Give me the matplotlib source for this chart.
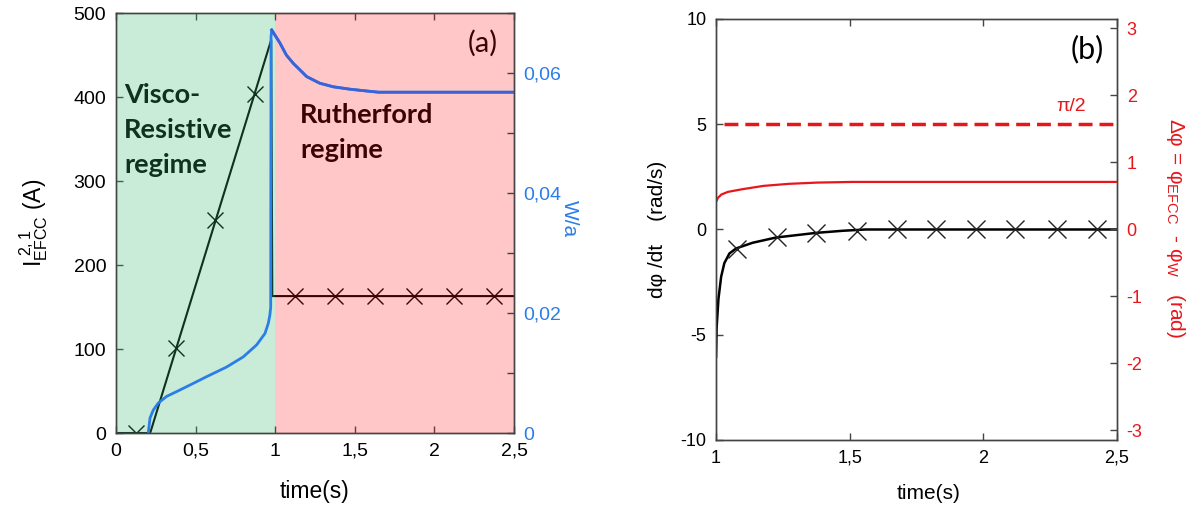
"""
Two panel figure: EFCC current / island width (a) and phase drift (b)
"""

import numpy as np
import matplotlib
matplotlib.use('Agg')
from matplotlib import pyplot as plt

plt.rcParams['font.family'] = ['Liberation Sans', 'DejaVu Sans']
plt.rcParams['mathtext.fontset'] = 'custom'
plt.rcParams['mathtext.rm'] = 'Liberation Sans'
plt.rcParams['mathtext.it'] = 'Liberation Sans:italic'
plt.rcParams['axes.unicode_minus'] = False

# ---- panel (a) data ----
current_t = [0.0, 0.215, 0.975, 0.982, 2.5]
current_A = [0, 0, 468, 163, 163]
current_mark_t = [0.125, 0.375, 0.625, 0.875, 1.125, 1.375, 1.625, 1.875, 2.125, 2.375]
current_mark_A = [0, 101, 254, 404, 163, 163, 163, 163, 163, 163]

width_t = [0.203, 0.214, 0.234, 0.266, 0.318, 0.381, 0.465, 0.57, 0.695, 0.8,
           0.884, 0.936, 0.957, 0.967, 0.972, 0.974, 0.978, 0.999, 1.03, 1.07,
           1.114, 1.16, 1.198, 1.28, 1.365, 1.47, 1.575, 1.65, 2.5]
width_a = [0.0, 0.0025, 0.0038, 0.005, 0.0061, 0.0069, 0.008, 0.0094, 0.011, 0.0127,
           0.0147, 0.0166, 0.0183, 0.0197, 0.021, 0.066, 0.0672, 0.0663, 0.065, 0.063,
           0.0616, 0.0604, 0.0594, 0.0583, 0.0577, 0.0573, 0.057, 0.0568, 0.0568]

xticks_a = [0, 0.5, 1, 1.5, 2, 2.5]
xticklabels_a = ['0', '0,5', '1', '1,5', '2', '2,5']
yticks_a = [0, 100, 200, 300, 400, 500]
wticks = [0, 0.02, 0.04, 0.06]
wticklabels = ['0', '0,02', '0,04', '0,06']
wticks_minor = [0.01, 0.03, 0.05, 0.07]

# ---- panel (b) data ----
dphi_t = [1.0, 1.002, 1.009, 1.019, 1.031, 1.05, 1.075, 1.137, 1.225, 1.375, 1.475, 1.56, 2.5]
dphi = [-6.04, -4.7, -3.3, -2.25, -1.6, -1.14, -0.9, -0.63, -0.38, -0.16, -0.06, 0, 0]
dphi_mark_t = [1.08, 1.227, 1.374, 1.529, 1.676, 1.824, 1.971, 2.12, 2.277, 2.426]
dphi_mark = [-0.93, -0.38, -0.17, -0.06, 0, 0, 0, 0, 0, 0]

delta_t = [1.0, 1.007, 1.02, 1.044, 1.098, 1.178, 1.271, 1.378, 1.511, 2.5]
delta_phi = [0.412, 0.472, 0.522, 0.561, 0.601, 0.651, 0.681, 0.70, 0.71, 0.71]
half_pi_t = [1.03, 2.5]

xticks_b = [1, 1.5, 2, 2.5]
xticklabels_b = ['1', '1,5', '2', '2,5']
yticks_b = [-10, -5, 0, 5, 10]
rticks_b = [-3, -2, -1, 0, 1, 2, 3]

# ---- styles ----
colorBlue = '#2b7de9'
colorBluePink = '#3b63d8'
colorRed = '#e8161b'
colorSpine = '#444444'
green_over = (55/255, 185/255, 110/255)
red_over = (1.0, 17/255, 17/255)


def style_spines(ax):
    for s in ax.spines.values():
        s.set_color(colorSpine)
        s.set_linewidth(1.0)


fig = plt.figure(figsize=(11.99, 5.08), dpi=100)

# ======================== panel (a) ========================
ax_a = fig.add_axes([0.0967, 0.1476, 0.332, 0.8268])
ax_a.plot(current_t, current_A, color='black', lw=1.5, zorder=2)
ax_a.plot(current_mark_t, current_mark_A, ls='none', marker='x', ms=12,
          mew=1.0, color='black', zorder=2)
ax_a.set_xlim(0, 2.5)
ax_a.set_ylim(0, 500)
ax_a.set_xticks(xticks_a)
ax_a.set_xticklabels(xticklabels_a)
ax_a.set_yticks(yticks_a)
ax_a.tick_params(direction='in', top=True, right=False, length=5, width=1,
                 color=colorSpine, labelsize=14, pad=7)

# regime labels (under the tinted overlay)
for txt, yv in zip(['Visco-', 'Resistive', 'regime'], [393, 351, 310]):
    ax_a.text(0.05, yv, txt, fontsize=19.5, fontweight='bold', family='Lato',
              va='baseline', ha='left', color='black', zorder=3)
for txt, yv in zip(['Rutherford', 'regime'], [369, 327]):
    ax_a.text(1.156, yv, txt, fontsize=19.5, fontweight='bold', family='Lato',
              va='baseline', ha='left', color='black', zorder=3)
ax_a.text(2.305, 464, '(a)', fontsize=21, family='Lato', ha='center', va='center', zorder=3)

ax_a.axvspan(0, 1, color=green_over, alpha=0.27, lw=0, zorder=4)
ax_a.axvspan(1, 2.5, color=red_over, alpha=0.235, lw=0, zorder=4)

ax_a.text(-0.206, 0.5, r'$\mathregular{I^{\ 2,1}_{EFCC}}$ (A)', transform=ax_a.transAxes,
          rotation=90, ha='center', va='center', fontsize=16.5)
ax_a.text(0.5, -0.14, 'time(s)', transform=ax_a.transAxes,
          ha='center', va='center', fontsize=16.5)
style_spines(ax_a)

ax_w = ax_a.twinx()
wt = np.array(width_t)
wa = np.array(width_a)
ax_w.plot(wt, wa, color=colorBlue, lw=2.0)
post = wt >= 0.978
ax_w.plot(wt[post], wa[post], color=colorBluePink, lw=2.0)
ax_w.set_ylim(0, 0.07)
ax_w.set_yticks(wticks)
ax_w.set_yticklabels(wticklabels)
ax_w.set_yticks(wticks_minor, minor=True)
ax_w.tick_params(which='both', direction='in', length=5, width=1, color=colorSpine,
                 labelsize=14, labelcolor=colorBlue, pad=7)
ax_w.text(1.138, 0.51, 'W/a', transform=ax_w.transAxes, rotation=270,
          ha='center', va='center', fontsize=15, color=colorBlue)
style_spines(ax_w)

# ======================== panel (b) ========================
ax_b = fig.add_axes([0.5972, 0.1339, 0.3344, 0.8287])
ax_b.plot(dphi_t, dphi, color='black', lw=1.8, zorder=3)
ax_b.plot(dphi_mark_t, dphi_mark, ls='none', marker='x', ms=13, mew=1.0,
          color='#222222', zorder=3)
ax_b.set_xlim(1, 2.5)
ax_b.set_ylim(-10, 10)
ax_b.set_xticks(xticks_b)
ax_b.set_xticklabels(xticklabels_b)
ax_b.set_yticks(yticks_b)
ax_b.tick_params(direction='in', top=True, right=False, length=5, width=1,
                 color=colorSpine, labelsize=13, pad=7)
ax_b.text(2.387, 8.55, '(b)', fontsize=22, family='Lato', ha='center', va='center')
ax_b.text(2.33, 5.85, 'π/2', fontsize=14, ha='center', va='center', color=colorRed)
ax_b.text(-0.147, 0.5, 'dφ /dt    (rad/s)', transform=ax_b.transAxes,
          rotation=90, ha='center', va='center', fontsize=15)
ax_b.text(0.53, -0.126, 'time(s)', transform=ax_b.transAxes,
          ha='center', va='center', fontsize=15)
style_spines(ax_b)

ax_p = ax_b.twinx()
ax_p.plot(delta_t, delta_phi, color=colorRed, lw=1.6)
ax_p.plot(half_pi_t, [np.pi/2, np.pi/2], color=colorRed, lw=2.5, dashes=(4, 2))
ax_p.set_ylim(-np.pi, np.pi)
ax_p.set_yticks(rticks_b)
ax_p.tick_params(direction='in', length=5, width=1, color=colorSpine,
                 labelsize=13, labelcolor=colorRed, pad=7)
ax_p.text(1.147, 0.504, r'Δφ = φ$_{\mathregular{EFCC}}$  - φ$_{\mathregular{W}}$   (rad)',
          transform=ax_p.transAxes, rotation=270, ha='center', va='center',
          fontsize=15, color=colorRed)
style_spines(ax_p)

fig.savefig('out.png', dpi=100)
